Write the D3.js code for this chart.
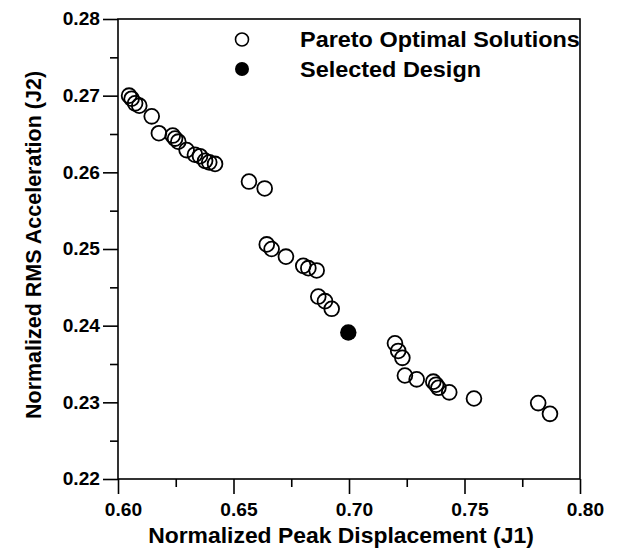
<!DOCTYPE html>
<html>
<head>
<meta charset="utf-8">
<script src="https://cdn.jsdelivr.net/npm/d3@7"></script>
<style>
body { margin: 0; background: #fff; }
text { font-family: "Liberation Sans", Arial, sans-serif; font-weight: bold; fill: #000; }
</style>
</head>
<body>
<svg></svg>
<script>
// size of the picture and of the plot frame
var width = 623;
var height = 549;
var margin = {top: 19, right: 43, bottom: 70, left: 118};
var stretch = 1.065;   // the original lettering is a bit wider than Arial

// data
var paretoJ1 = [0.6048, 0.6059, 0.6074, 0.6092, 0.6146, 0.6177, 0.6237, 0.6247, 0.6261, 0.6297,
                0.6333, 0.6355, 0.6377, 0.6395, 0.6420, 0.6567, 0.6635, 0.6644, 0.6665, 0.6727,
                0.6802, 0.6824, 0.6860, 0.6867, 0.6896, 0.6925, 0.7199, 0.7213, 0.7231, 0.7242,
                0.7293, 0.7365, 0.7377, 0.7387, 0.7434, 0.7541, 0.7819, 0.7870];
var paretoJ2 = [0.2700, 0.2696, 0.2690, 0.2687, 0.2673, 0.2651, 0.2648, 0.2644, 0.2640, 0.2629,
                0.2623, 0.2621, 0.2615, 0.2613, 0.2611, 0.2588, 0.2579, 0.2506, 0.2500, 0.2490,
                0.2478, 0.2475, 0.2472, 0.2438, 0.2432, 0.2422, 0.2377, 0.2367, 0.2358, 0.2335,
                0.2330, 0.2327, 0.2323, 0.2319, 0.2313, 0.2305, 0.2299, 0.2285];
var selectedJ1 = [0.6997];
var selectedJ2 = [0.2391];

var xTicks = [0.60, 0.65, 0.70, 0.75, 0.80];
var xMinor = [0.625, 0.675, 0.725, 0.775];
var yTicks = [0.22, 0.23, 0.24, 0.25, 0.26, 0.27, 0.28];
var yMinor = [0.225, 0.235, 0.245, 0.255, 0.265, 0.275];

var legendLabels = ["Pareto Optimal Solutions", "Selected Design"];
var xTitle = "Normalized Peak Displacement (J1)";
var yTitle = "Normalized RMS Acceleration (J2)";

var x = d3.scaleLinear()
    .domain([0.60, 0.80])
    .range([margin.left, width - margin.right]);

var y = d3.scaleLinear()
    .domain([0.22, 0.28])
    .range([height - margin.bottom, margin.top]);

var svg = d3.select("svg")
    .attr("width", width)
    .attr("height", height);

// widen horizontal lettering a little
function widen(sel) {
    sel.each(function() {
        var w = this.getComputedTextLength();
        d3.select(this)
            .attr("textLength", w * stretch)
            .attr("lengthAdjust", "spacingAndGlyphs");
    });
}

// frame (top and right sides)
svg.append("rect")
    .attr("x", x(0.60))
    .attr("y", y(0.28))
    .attr("width", x(0.80) - x(0.60))
    .attr("height", y(0.22) - y(0.28))
    .attr("fill", "none")
    .attr("stroke", "#000")
    .attr("stroke-width", 1.6);

// bottom axis
var gx = svg.append("g")
    .attr("transform", "translate(0," + y(0.22) + ")")
    .call(d3.axisBottom(x)
        .tickValues(xTicks)
        .tickSize(15)
        .tickPadding(9)
        .tickFormat(d3.format(".2f")));
gx.select(".domain").remove();
gx.selectAll("line").attr("stroke-width", 1.6);
gx.selectAll("text")
    .attr("dx", 5)
    .style("font-size", "18px")
    .call(widen);

svg.append("g")
    .attr("transform", "translate(0," + y(0.22) + ")")
    .call(d3.axisBottom(x).tickValues(xMinor).tickSize(8).tickFormat(""))
    .call(function(g) { g.select(".domain").remove(); })
    .selectAll("line").attr("stroke-width", 1.6);

// left axis
var gy = svg.append("g")
    .attr("transform", "translate(" + x(0.60) + ",0)")
    .call(d3.axisLeft(y)
        .tickValues(yTicks)
        .tickSize(15)
        .tickPadding(3)
        .tickFormat(d3.format(".2f")));
gy.select(".domain").remove();
gy.selectAll("line").attr("stroke-width", 1.6);
gy.selectAll("text")
    .style("font-size", "18px")
    .call(widen);

svg.append("g")
    .attr("transform", "translate(" + x(0.60) + ",0)")
    .call(d3.axisLeft(y).tickValues(yMinor).tickSize(8).tickFormat(""))
    .call(function(g) { g.select(".domain").remove(); })
    .selectAll("line").attr("stroke-width", 1.6);

// axis titles
svg.append("text")
    .attr("x", 341)
    .attr("y", 543)
    .attr("text-anchor", "middle")
    .style("font-size", "21.5px")
    .text(xTitle)
    .call(widen);

svg.append("text")
    .attr("transform", "translate(41,245) rotate(-90)")
    .attr("text-anchor", "middle")
    .style("font-size", "21.5px")
    .text(yTitle);

// points
svg.append("g")
    .selectAll("circle")
    .data(d3.range(paretoJ1.length))
    .enter().append("circle")
    .attr("cx", function(i) { return x(paretoJ1[i]); })
    .attr("cy", function(i) { return y(paretoJ2[i]); })
    .attr("r", 7.4)
    .attr("fill", "none")
    .attr("stroke", "#000")
    .attr("stroke-width", 1.8);

svg.append("g")
    .selectAll("circle")
    .data(d3.range(selectedJ1.length))
    .enter().append("circle")
    .attr("cx", function(i) { return x(selectedJ1[i]); })
    .attr("cy", function(i) { return y(selectedJ2[i]); })
    .attr("r", 8.2)
    .attr("fill", "#000");

// legend
var legend = svg.append("g").attr("class", "legend");
legend.append("circle")
    .attr("cx", 242).attr("cy", 39.5).attr("r", 6.5)
    .attr("fill", "#fff").attr("stroke", "#000").attr("stroke-width", 1.6);
legend.append("circle")
    .attr("cx", 242).attr("cy", 69).attr("r", 7)
    .attr("fill", "#000");
legend.selectAll("text")
    .data(legendLabels)
    .enter().append("text")
    .attr("x", 300)
    .attr("y", function(d, i) { return 47 + i * 30; })
    .style("font-size", "22px")
    .text(function(d) { return d; })
    .call(widen);
</script>
</body>
</html>
